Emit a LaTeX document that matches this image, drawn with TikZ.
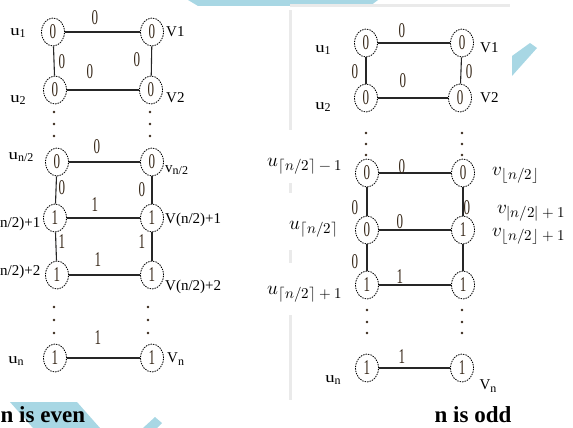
\documentclass[tikz,border=0pt]{standalone}
\usepackage{fontspec}
\usepackage{unicode-math}
\setmainfont{Liberation Serif}
\usetikzlibrary{shapes.geometric}
\definecolor{dig}{RGB}{55,40,25}
\definecolor{wm}{RGB}{168,215,228}
\definecolor{framec}{RGB}{234,234,234}
\newcommand\dg[1]{\scalebox{0.62}[1]{\fontsize{21}{21}\selectfont #1}}
\newcommand\lb[2]{#1\raisebox{-2.5pt}{\fontsize{12}{12}\selectfont #2}}
\newcommand\ulb[2]{\scalebox{1.25}[1]{#1}\raisebox{-2.5pt}{\fontsize{12}{12}\selectfont #2}}
\newcommand\mlb[2]{{\fontsize{19}{19}\selectfont$#1$}\raisebox{-4.5pt}{\fontsize{15}{15}\selectfont$#2$}}
\begin{document}
\begin{tikzpicture}[x=1pt,y=-1pt,
  nd/.style={ellipse, draw, dash pattern=on 1.5pt off 1pt, line width=0.8pt, minimum width=23pt, minimum height=28pt, inner sep=0pt, text=dig},
  el/.style={text=dig, inner sep=0pt},
  lab/.style={inner sep=0pt, font=\fontsize{15}{15}\selectfont},
  ed/.style={line width=1.1pt, black!85},
  dotn/.style={circle, fill=dig, inner sep=0pt, minimum size=2.6pt},
  fr/.style={framec, line width=3pt},
  big/.style={inner sep=0pt, font=\bfseries\fontsize{23}{23}\selectfont}]
\useasboundingbox (0,0) rectangle (573,428);
% watermark shapes
\fill[wm] (188,0) -- (378,0) -- (370,6) -- (198,6) -- cycle;
\fill[wm] (512,56) -- (530,43) -- (537,48) -- (512,76) -- cycle;
\fill[wm] (10,402) -- (77,402) -- (100,428) -- (33,428) -- cycle;
\fill[wm] (143,428) -- (155,417) -- (162,423) -- (157,428) -- cycle;
% frame lines of right panel
\draw[fr] (290,6) -- (510,6);
\draw[fr] (290,10) -- (290,130);
\draw[fr] (290,183) -- (290,193);
\draw[fr] (290,250) -- (290,263);
\draw[fr] (290,315) -- (290,400);

% ---------- left graph (n even) ----------
\node[nd] (L1u) at (53,32) {\dg0};
\node[nd] (L1v) at (152,32) {\dg0};
\node[nd] (L2u) at (55,90) {\dg0};
\node[nd] (L2v) at (151,90) {\dg0};
\node[nd] (L3u) at (57,162) {\dg0};
\node[nd] (L3v) at (152,162) {\dg0};
\node[nd] (L4u) at (55,218) {\dg1};
\node[nd] (L4v) at (152,218) {\dg1};
\node[nd] (L5u) at (57,275) {\dg1};
\node[nd] (L5v) at (152,275) {\dg1};
\node[nd] (L6u) at (55,358) {\dg1};
\node[nd] (L6v) at (152,358) {\dg1};
\draw[ed] (L1u) -- (L1v);
\draw[ed] (L2u) -- (L2v);
\draw[ed] (L3u) -- (L3v);
\draw[ed] (L4u) -- (L4v);
\draw[ed] (L5u) -- (L5v);
\draw[ed] (L6u) -- (L6v);
\draw[ed] (L1u) -- (L2u);
\draw[ed] (L1v) -- (L2v);
\draw[ed] (L3u) -- (L4u);
\draw[ed] (L3v) -- (L4v);
\draw[ed] (L4u) -- (L5u);
\draw[ed] (L4v) -- (L5v);
% edge labels
\node[el] (le1) at (95,18) {\dg0};
\node[el] (le2) at (62,62) {\dg0};
\node[el] (le3) at (137,60) {\dg0};
\node[el] (le4) at (90,72) {\dg0};
\node[el] (le5) at (97,147) {\dg0};
\node[el] (le6) at (62,188) {\dg0};
\node[el] (le7) at (142,190) {\dg0};
\node[el] (le8) at (95,205) {\dg1};
\node[el] (le9) at (62,242) {\dg1};
\node[el] (le10) at (142,242) {\dg1};
\node[el] (le11) at (98,260) {\dg1};
\node[el] (le12) at (98,338) {\dg1};
% vertex labels
\node[lab] (tu1) at (18,33) {\ulb{u}{1}};
\node[lab] (tu2) at (18,100) {\ulb{u}{2}};
\node[lab] (tu3) at (21,157) {\ulb{u}{n/2}};
\node[lab, anchor=west] (tu4) at (0,224) {n/2)+1};
\node[lab, anchor=west] (tu5) at (0,272) {n/2)+2};
\node[lab] (tu6) at (16,361) {\ulb{u}{n}};
\node[lab, anchor=west] (tv1) at (166,32) {V1};
\node[lab, anchor=west] (tv2) at (166,98) {V2};
\node[lab, anchor=west] (tv3) at (165,170) {\lb{v}{n/2}};
\node[lab, anchor=west] (tv4) at (165,220) {V(n/2)+1};
\node[lab, anchor=west] (tv5) at (165,287) {V(n/2)+2};
\node[lab, anchor=west] (tv6) at (167,359) {\lb{V}{n}};
% dots
\foreach \yy in {112,124,136}{
  \node[dotn] at (54,\yy) {};
  \node[dotn] at (150,\yy) {};}
\foreach \yy in {307,320,333}{
  \node[dotn] at (54,\yy) {};
  \node[dotn] at (148,\yy) {};}

% ---------- right graph (n odd) ----------
\node[nd] (R1u) at (366,43) {\dg0};
\node[nd] (R1v) at (462,43) {\dg0};
\node[nd] (R2u) at (366,98) {\dg0};
\node[nd] (R2v) at (460,98) {\dg0};
\node[nd] (R3u) at (367,173) {\dg0};
\node[nd] (R3v) at (463,173) {\dg0};
\node[nd] (R4u) at (367,230) {\dg0};
\node[nd] (R4v) at (463,230) {\dg1};
\node[nd] (R5u) at (367,285) {\dg1};
\node[nd] (R5v) at (463,285) {\dg1};
\node[nd] (R6u) at (367,368) {\dg1};
\node[nd] (R6v) at (462,368) {\dg1};
\draw[ed] (R1u) -- (R1v);
\draw[ed] (R2u) -- (R2v);
\draw[ed] (R3u) -- (R3v);
\draw[ed] (R4u) -- (R4v);
\draw[ed] (R5u) -- (R5v);
\draw[ed] (R6u) -- (R6v);
\draw[ed] (R1u) -- (R2u);
\draw[ed] (R1v) -- (R2v);
\draw[ed] (R3u) -- (R4u);
\draw[ed] (R3v) -- (R4v);
\draw[ed] (R4u) -- (R5u);
\draw[ed] (R4v) -- (R5v);
% edge labels
\node[el] (re1) at (402,31) {\dg0};
\node[el] (re2) at (355,72) {\dg0};
\node[el] (re3) at (469,72) {\dg0};
\node[el] (re4) at (403,81) {\dg0};
\node[el] (re5) at (402,167) {\dg0};
\node[el] (re6) at (355,208) {\dg0};
\node[el] (re7) at (467,208) {\dg0};
\node[el] (re8) at (400,222) {\dg0};
\node[el] (re9) at (355,262) {\dg0};
\node[el] (re10) at (400,277) {\dg1};
\node[el] (re11) at (402,357) {\dg1};
% vertex labels
\node[lab] (su1) at (323,50) {\ulb{u}{1}};
\node[lab] (su2) at (323,107) {\ulb{u}{2}};
\node[lab, anchor=east] (su3) at (342,166) {\mlb{u}{\lceil n/2\rceil-1}};
\node[lab, anchor=east] (su4) at (338,229) {\mlb{u}{\lceil n/2\rceil}};
\node[lab, anchor=east] (su5) at (342,294) {\mlb{u}{\lceil n/2\rceil+1}};
\node[lab] (su6) at (333,380) {\ulb{u}{n}};
\node[lab, anchor=west] (sv1) at (480,48) {V1};
\node[lab, anchor=west] (sv2) at (480,98) {V2};
\node[lab, anchor=west] (sv3) at (492,175) {\mlb{v}{\lfloor n/2\rfloor}};
\node[lab, anchor=west] (sv4) at (497,213) {\mlb{v}{|n/2|+1}};
\node[lab, anchor=west] (sv5) at (492,236) {\mlb{v}{\lfloor n/2\rfloor+1}};
\node[lab] (sv6) at (488,386) {\lb{V}{n}};
% dots
\foreach \yy in {133,144,155}{
  \node[dotn] at (366,\yy) {};
  \node[dotn] at (462,\yy) {};}
\foreach \yy in {310,322,333}{
  \node[dotn] at (367,\yy) {};
  \node[dotn] at (462,\yy) {};}

% captions
\node[big, anchor=west] (cap1) at (0.5,415) {n is even};
\node[big] (cap2) at (473,415) {n is odd};
\end{tikzpicture}
\end{document}
